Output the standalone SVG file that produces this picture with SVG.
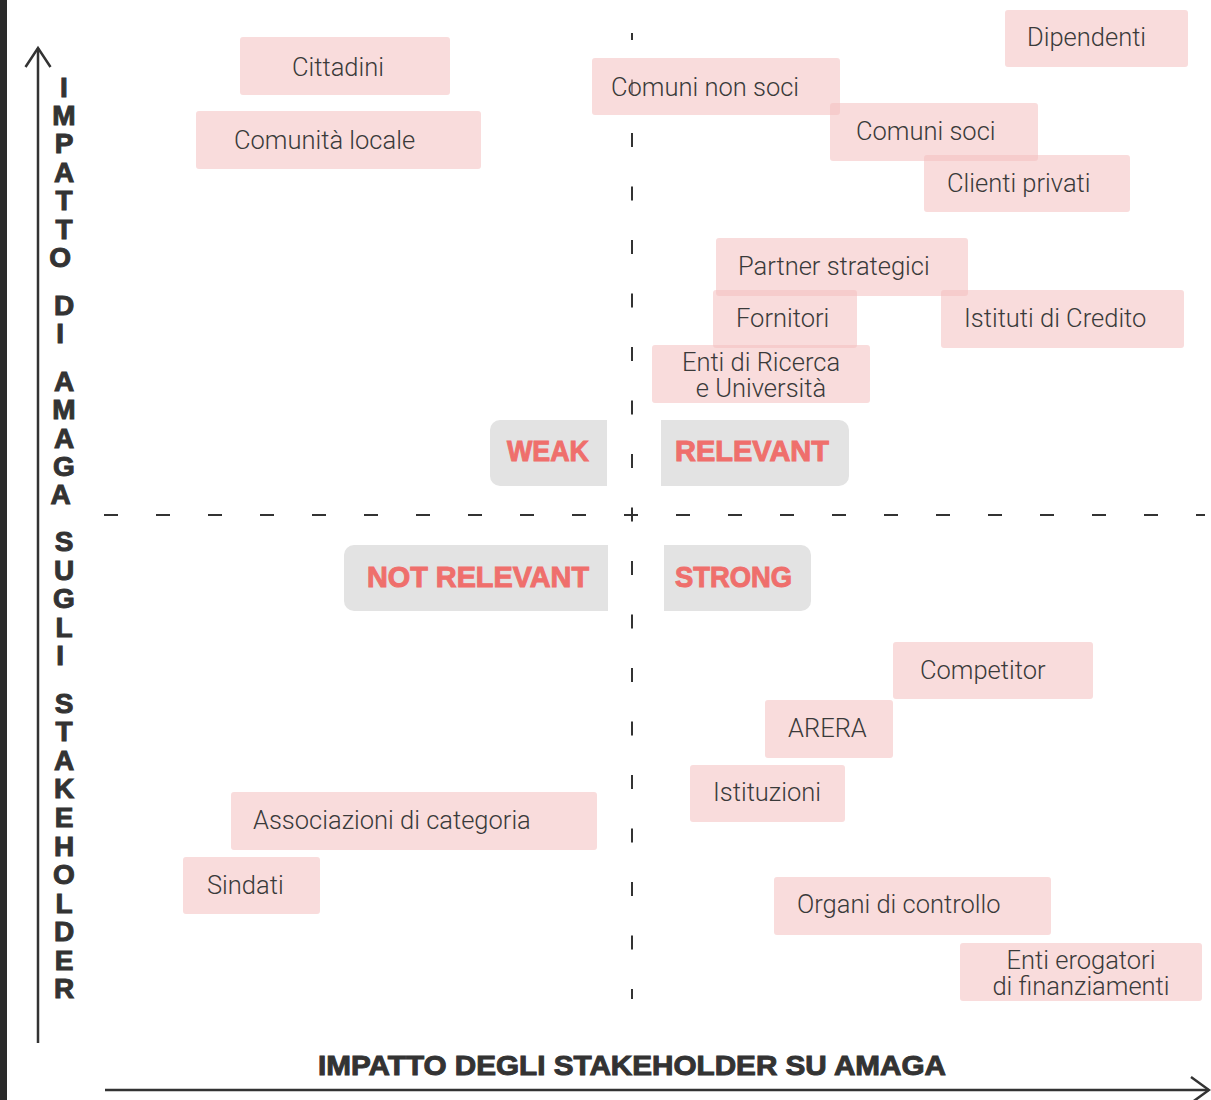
<svg xmlns="http://www.w3.org/2000/svg" width="1211" height="1100" viewBox="0 0 1211 1100">
<style>
.bx{fill:#f4c0c0;fill-opacity:0.55}
.lb{font-family:Roboto,"Liberation Sans",sans-serif;font-weight:300;font-size:25.5px;fill:#3a3a3a}
.mid{text-anchor:middle}
.qb{fill:#e3e3e3}
.ql{font-family:"Liberation Sans",Arial,sans-serif;font-weight:bold;font-size:29px;fill:#ef6f6c;stroke:#ef6f6c;stroke-width:1}
.ax{stroke:#333;stroke-width:2.5;fill:none}
.ds{stroke:#333;stroke-width:2;fill:none}
.at{font-family:"Liberation Sans",Arial,sans-serif;font-weight:bold;font-size:28px;fill:#333;stroke:#333;stroke-width:1}
</style>
<rect x="0" y="0" width="1211" height="1100" fill="#ffffff"/>
<rect x="0" y="0" width="7" height="1100" fill="#2b2b2b"/>
<g id="connectors">
<line class="ax" x1="38" y1="48" x2="38" y2="1043"/>
<polyline class="ax" points="25.5,67 38,48 50.5,67"/>
<line class="ax" x1="105" y1="1090" x2="1209" y2="1090"/>
<polyline class="ax" points="1191,1077 1209,1090 1191,1103"/>
<line class="ds" x1="632" y1="33" x2="632" y2="999" stroke-dasharray="14 39.5" stroke-dashoffset="7"/>
<line class="ds" x1="104" y1="515" x2="1205" y2="515" stroke-dasharray="14 38"/>
</g>
<g id="axis-y-label">
<text class="at mid">
<tspan x="64" y="97">I</tspan><tspan x="64" y="125">M</tspan><tspan x="64" y="153">P</tspan><tspan x="64" y="182">A</tspan><tspan x="64" y="210">T</tspan><tspan x="64" y="239">T</tspan><tspan x="64" y="267">O</tspan>
<tspan x="64" y="315">D</tspan><tspan x="64" y="343">I</tspan>
<tspan x="64" y="391">A</tspan><tspan x="64" y="419">M</tspan><tspan x="64" y="448">A</tspan><tspan x="64" y="476">G</tspan><tspan x="64" y="504">A</tspan>
<tspan x="64" y="551">S</tspan><tspan x="64" y="580">U</tspan><tspan x="64" y="608">G</tspan><tspan x="64" y="637">L</tspan><tspan x="64" y="665">I</tspan>
<tspan x="64" y="713">S</tspan><tspan x="64" y="741">T</tspan><tspan x="64" y="770">A</tspan><tspan x="64" y="798">K</tspan><tspan x="64" y="827">E</tspan><tspan x="64" y="856">H</tspan><tspan x="64" y="884">O</tspan><tspan x="64" y="913">L</tspan><tspan x="64" y="941">D</tspan><tspan x="64" y="970">E</tspan><tspan x="64" y="998">R</tspan>
</text>
</g>
<g id="axis-x-label">
<text class="at" x="318" y="1075" textLength="628" lengthAdjust="spacingAndGlyphs">IMPATTO DEGLI STAKEHOLDER SU AMAGA</text>
</g>
<g id="q-weak">
<path class="qb" d="M500,420 H607 V486 H500 A10,10 0 0 1 490,476 V430 A10,10 0 0 1 500,420 Z"/>
<text class="ql" x="507" y="461" textLength="82" lengthAdjust="spacingAndGlyphs">WEAK</text>
</g>
<g id="q-relevant">
<path class="qb" d="M661,420 H839 A10,10 0 0 1 849,430 V476 A10,10 0 0 1 839,486 H661 Z"/>
<text class="ql" x="675" y="461" textLength="154" lengthAdjust="spacingAndGlyphs">RELEVANT</text>
</g>
<g id="q-not-relevant">
<path class="qb" d="M354,545 H608 V611 H354 A10,10 0 0 1 344,601 V555 A10,10 0 0 1 354,545 Z"/>
<text class="ql" x="367" y="587" textLength="222" lengthAdjust="spacingAndGlyphs">NOT RELEVANT</text>
</g>
<g id="q-strong">
<path class="qb" d="M664,545 H801 A10,10 0 0 1 811,555 V601 A10,10 0 0 1 801,611 H664 Z"/>
<text class="ql" x="675" y="587" textLength="117" lengthAdjust="spacingAndGlyphs">STRONG</text>
</g>
<g id="n-cittadini"><rect class="bx" x="240" y="37" width="210" height="58" rx="3"/><text class="lb" x="292" y="76">Cittadini</text></g>
<g id="n-comunita-locale"><rect class="bx" x="196" y="111" width="285" height="58" rx="3"/><text class="lb" x="234" y="149">Comunità locale</text></g>
<g id="n-comuni-non-soci"><rect class="bx" x="592" y="58" width="248" height="57" rx="3"/><text class="lb" x="611" y="96">Comuni non soci</text></g>
<g id="n-dipendenti"><rect class="bx" x="1005" y="10" width="183" height="57" rx="3"/><text class="lb" x="1027" y="46">Dipendenti</text></g>
<g id="n-comuni-soci"><rect class="bx" x="830" y="103" width="208" height="58" rx="3"/><text class="lb" x="856" y="140">Comuni soci</text></g>
<g id="n-clienti-privati"><rect class="bx" x="924" y="155" width="206" height="57" rx="3"/><text class="lb" x="947" y="192">Clienti privati</text></g>
<g id="n-partner-strategici"><rect class="bx" x="716" y="238" width="252" height="58" rx="3"/><text class="lb" x="738" y="275">Partner strategici</text></g>
<g id="n-fornitori"><rect class="bx" x="713" y="290" width="144" height="58" rx="3"/><text class="lb" x="736" y="327">Fornitori</text></g>
<g id="n-istituti-credito"><rect class="bx" x="941" y="290" width="243" height="58" rx="3"/><text class="lb" x="964" y="327">Istituti di Credito</text></g>
<g id="n-enti-ricerca"><rect class="bx" x="652" y="345" width="218" height="58" rx="3"/><text class="lb mid" x="761" y="371">Enti di Ricerca</text><text class="lb mid" x="761" y="397">e Università</text></g>
<g id="n-competitor"><rect class="bx" x="893" y="642" width="200" height="57" rx="3"/><text class="lb" x="920" y="679">Competitor</text></g>
<g id="n-arera"><rect class="bx" x="765" y="700" width="128" height="58" rx="3"/><text class="lb" x="788" y="737">ARERA</text></g>
<g id="n-istituzioni"><rect class="bx" x="690" y="765" width="155" height="57" rx="3"/><text class="lb" x="713" y="801">Istituzioni</text></g>
<g id="n-associazioni"><rect class="bx" x="231" y="792" width="366" height="58" rx="3"/><text class="lb" x="253" y="829">Associazioni di categoria</text></g>
<g id="n-sindati"><rect class="bx" x="183" y="857" width="137" height="57" rx="3"/><text class="lb" x="207" y="894">Sindati</text></g>
<g id="n-organi-controllo"><rect class="bx" x="774" y="877" width="277" height="58" rx="3"/><text class="lb" x="797" y="913">Organi di controllo</text></g>
<g id="n-enti-erogatori"><rect class="bx" x="960" y="943" width="242" height="58" rx="3"/><text class="lb mid" x="1081" y="969">Enti erogatori</text><text class="lb mid" x="1081" y="995">di finanziamenti</text></g>
</svg>
